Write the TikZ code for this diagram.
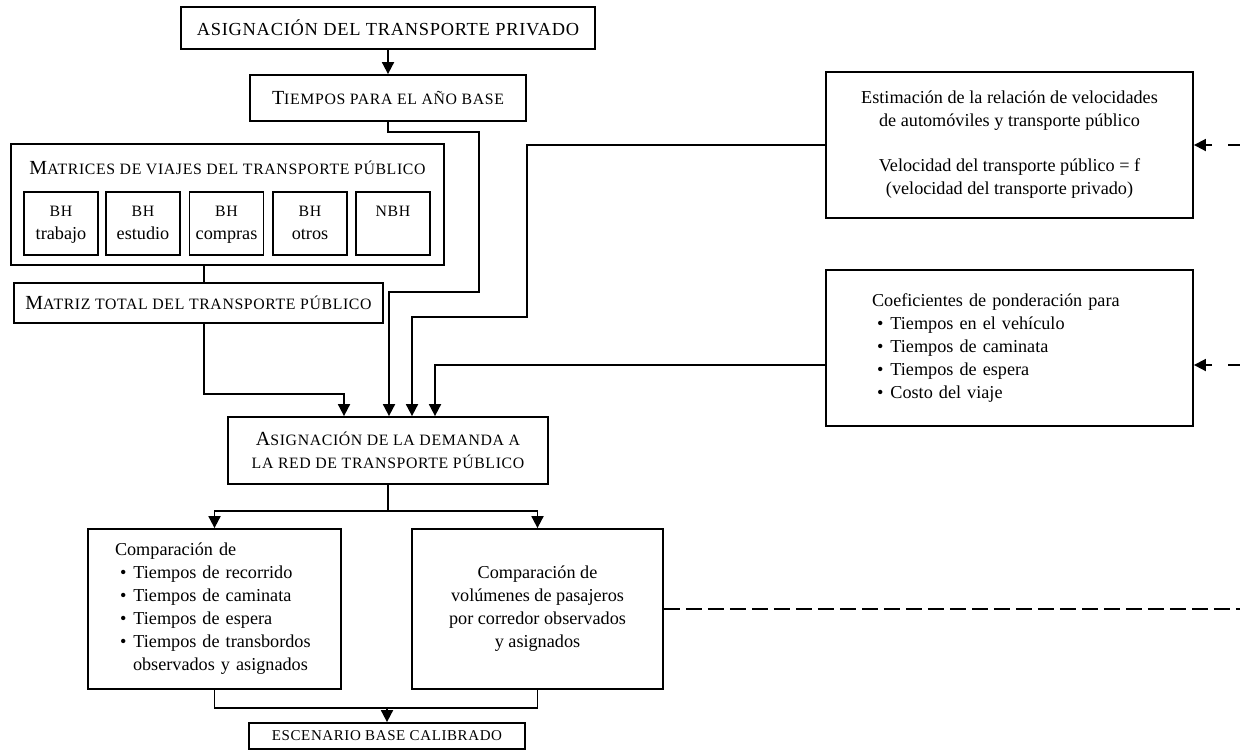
\documentclass[tikz,border=0pt]{standalone}
\usepackage{fontspec}
\setmainfont{Liberation Serif}
\newfontfamily\capsfont[LetterSpace=4]{Liberation Serif}
\usetikzlibrary{arrows.meta}
\tikzset{>={Stealth[length=6pt,width=6pt,inset=0pt]}}
% fake small caps: first letter large, rest in reduced capitals
\newcommand{\smc}[2]{{\capsfont\fontsize{10}{11.5}\selectfont#1\fontsize{7.9}{11.5}\selectfont\MakeUppercase{#2}}}
\newcommand{\itm}{\hspace*{2.5pt}\textbullet\hspace{3.5pt}}

\begin{document}
\begin{tikzpicture}[x=0.5pt, y=-0.5pt, line width=0.9pt,
    box/.style={draw, inner sep=0pt, align=center, font=\fontsize{9.1}{11.5}\selectfont},
    cell/.style={box, minimum width=37pt, minimum height=31.5pt},
    dashline/.style={dash pattern=on 8pt off 3pt}]
  \useasboundingbox (0,0) rectangle (1240,751);

  \node[box, minimum width=207pt, minimum height=21pt] (asigpriv) at (388,28)
    {{\capsfont\fontsize{9.2}{11.5}\selectfont ASIGNACIÓN DEL TRANSPORTE PRIVADO}};
  \node[box, minimum width=138pt, minimum height=23pt] (tiempos) at (388,98) {\smc{T}{iempos para el año base}};

  \node[box, minimum width=216.5pt, minimum height=60.5pt] (matrices) at (227.5,204.5) {};
  \node[font=\fontsize{9.1}{11.5}\selectfont] (mattitle) at (227.5,168) {\smc{M}{atrices de viajes del transporte público}};
  \foreach \x/\nm/\lbl in {61/bhtrab/trabajo, 143/bhest/estudio, 226.5/bhcomp/compras, 310/bhotros/otros}
    \node[cell] (\nm) at (\x,223.5) {\smc{}{bh}\strut\\\lbl\strut};
  \node[cell] (nbh) at (393,223.5) {\smc{}{nbh}\strut\\\strut};

  \node[box, minimum width=184.5pt, minimum height=20pt] (matriz) at (198.5,303) {\smc{M}{atriz total del transporte público}};

  \node[box, minimum width=183.5pt, minimum height=73pt] (estim) at (1009.5,145)
    {Estimación de la relación de velocidades\\de automóviles y transporte público\\[11pt]Velocidad del transporte público = f\\(velocidad del transporte privado)};
  \node[box, align=left, text width=137.5pt, inner xsep=23pt, minimum height=78pt] (coef) at (1009.5,348)
    {Coeficientes de ponderación para\\\itm Tiempos en el vehículo\\\itm Tiempos de caminata\\\itm Tiempos de espera\\\itm Costo del viaje};

  \node[box, minimum width=160pt, minimum height=33.5pt] (demanda) at (388,450.5)
    {\smc{A}{signación de la demanda a}\\\smc{}{la red de transporte público}};

  \node[box, align=left, text width=99.5pt, inner xsep=13.5pt, minimum height=80pt] (compL) at (214.5,609)
    {Comparación de\\\itm Tiempos de recorrido\\\itm Tiempos de caminata\\\itm Tiempos de espera\\\itm Tiempos de transbordos\\\hspace*{9pt}observados y asignados};
  \node[box, minimum width=125.5pt, minimum height=80pt] (compR) at (537.5,609)
    {Comparación de\\volúmenes de pasajeros\\por corredor observados\\y asignados};

  \node[box, minimum width=138pt, minimum height=13pt] (escenario) at (387,736)
    {{\capsfont\fontsize{7.5}{9}\selectfont ESCENARIO BASE CALIBRADO}};

  % connectors
  \draw[->] (asigpriv.south) -- (tiempos.north);
  \draw[->] (tiempos.south) |- (479,132) |- (389,292) -- (389,0 |- demanda.north);
  \draw[->] (estim.west) -| (527,317) -| (412,0 |- demanda.north);
  \draw[->] ([yshift=-8.5pt]coef.west) -| (435,0 |- demanda.north);
  \draw (204,0 |- matrices.south) -- (204,0 |- matriz.north);
  \draw[->] (204,0 |- matriz.south) |- (344,394) -- (344,0 |- demanda.north);
  \draw[->] (demanda.south) -- ++(0,26) -| (compL.north);
  \draw[->] (demanda.south) -- ++(0,26) -| (compR.north);
  \draw (compL.south) -- ++(0,18) -| (compR.south);
  \draw[->] (escenario.north |- 0,707) -- (escenario.north);

  % feedback lines leaving the picture
  \draw[dashline] (compR.east) -- (1240,0 |- compR.east);
  \draw[->, dash pattern=on 6pt off 8pt on 20pt] (1240,0 |- estim.east) -- (estim.east);
  \draw[->, dash pattern=on 6pt off 8pt on 20pt] (1240,0 |- coef.east) ++(0,17) -- ([yshift=-8.5pt]coef.east);
\end{tikzpicture}
\end{document}
